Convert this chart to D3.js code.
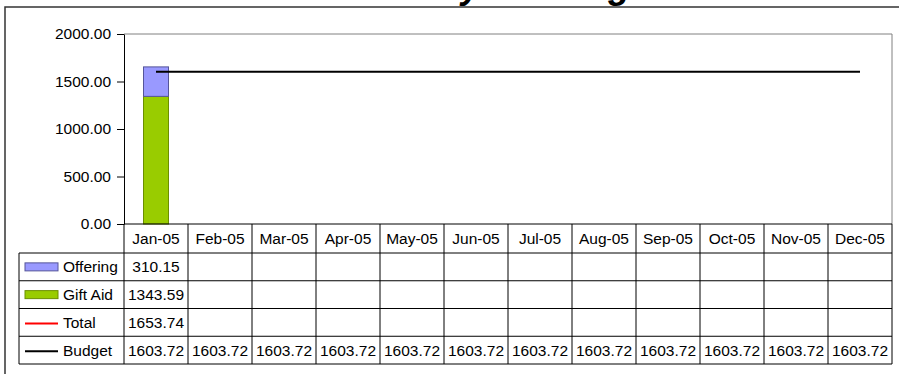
<!DOCTYPE html>
<html>
<head>
<meta charset="utf-8">
<script src="https://cdn.jsdelivr.net/npm/d3@7"></script>
<style>
	body { margin: 0; background: #fff; }
	svg { display: block; font-family: "Liberation Sans", Arial, sans-serif; }
</style>
</head>
<body>
<div id="chart"></div>
<script>
const months = ["Jan-05", "Feb-05", "Mar-05", "Apr-05", "May-05", "Jun-05", "Jul-05", "Aug-05", "Sep-05", "Oct-05", "Nov-05", "Dec-05"];
const offering = [310.15, null, null, null, null, null, null, null, null, null, null, null];
const giftAid = [1343.59, null, null, null, null, null, null, null, null, null, null, null];
const total = [1653.74, null, null, null, null, null, null, null, null, null, null, null];
const budget = [1603.72, 1603.72, 1603.72, 1603.72, 1603.72, 1603.72, 1603.72, 1603.72, 1603.72, 1603.72, 1603.72, 1603.72];
const yTicks = [0, 500, 1000, 1500, 2000];

const width = 899;
const height = 374;
const plot = { left: 124, right: 892, top: 34, bottom: 224 };
const headerH = 29;
const rowH = 27.75;
const legendLeft = 19;
const barWidth = 25;
const fontSize = "15.5px";

const svg = d3.select("#chart")
	.append("svg")
	.attr("width", width)
	.attr("height", height);

// outer frame, mostly off-page
svg.append("rect")
	.attr("x", 5)
	.attr("y", 7)
	.attr("width", width + 20)
	.attr("height", height + 20)
	.attr("fill", "none")
	.attr("stroke", "#333")
	.attr("stroke-width", 1.5);

// title, cut off at the top
svg.append("text")
	.attr("x", 343)
	.attr("y", -2)
	.attr("font-size", "36px")
	.attr("font-weight", "bold")
	.attr("font-style", "italic")
	.text("Monthly Offering");

const xScale = d3.scaleBand().domain(months).range([plot.left, plot.right]);
const yScale = d3.scaleLinear().domain([0, 2000]).range([plot.bottom, plot.top]);

// plot area border
svg.append("path")
	.attr("d", `M${plot.left},${plot.top}H${plot.right}V${plot.bottom}`)
	.attr("fill", "none")
	.attr("stroke", "#808080")
	.attr("stroke-width", 1);

// stacked bars
const stack = months.map((m, i) => ({ month: m, gift: giftAid[i], off: offering[i] }));

svg.append("g")
	.selectAll("rect")
	.data(stack.filter((d) => d.gift != null))
	.enter()
	.append("rect")
	.attr("x", (d) => xScale(d.month) + (xScale.bandwidth() - barWidth) / 2)
	.attr("y", (d) => yScale(d.gift))
	.attr("width", barWidth)
	.attr("height", (d) => yScale(0) - yScale(d.gift))
	.attr("fill", "#99cc00")
	.attr("stroke", "#6b8f00")
	.attr("stroke-width", 1);

svg.append("g")
	.selectAll("rect")
	.data(stack.filter((d) => d.off != null))
	.enter()
	.append("rect")
	.attr("x", (d) => xScale(d.month) + (xScale.bandwidth() - barWidth) / 2)
	.attr("y", (d) => yScale(d.gift + d.off))
	.attr("width", barWidth)
	.attr("height", (d) => yScale(d.gift) - yScale(d.gift + d.off))
	.attr("fill", "#9999ff")
	.attr("stroke", "#55559a")
	.attr("stroke-width", 1);

// lines
const line = d3.line()
	.defined((d) => d[1] != null)
	.x((d) => xScale(d[0]) + xScale.bandwidth() / 2)
	.y((d) => yScale(d[1]));

svg.append("path")
	.attr("d", line(months.map((m, i) => [m, total[i]])))
	.attr("fill", "none")
	.attr("stroke", "#ff0000")
	.attr("stroke-width", 2);

svg.append("path")
	.attr("d", line(months.map((m, i) => [m, budget[i]])))
	.attr("fill", "none")
	.attr("stroke", "#000")
	.attr("stroke-width", 2);

// y axis
const yAxis = d3.axisLeft(yScale)
	.tickValues(yTicks)
	.tickFormat(d3.format(".2f"))
	.tickSize(7)
	.tickSizeOuter(0)
	.tickPadding(6);

const gy = svg.append("g")
	.attr("transform", `translate(${plot.left},0)`)
	.call(yAxis);
gy.selectAll("text").attr("font-size", fontSize).attr("fill", "#000").attr("font-family", null);
gy.selectAll("line, path").attr("stroke", "#000");

// data table
const rows = [
	{ name: "Offering", values: offering, key: "rect", fill: "#9999ff", stroke: "#55559a" },
	{ name: "Gift Aid", values: giftAid, key: "rect", fill: "#99cc00", stroke: "#6b8f00" },
	{ name: "Total", values: total, key: "line", stroke: "#ff0000" },
	{ name: "Budget", values: budget, key: "line", stroke: "#000" },
];

const table = svg.append("g");
const tableTop = plot.bottom + headerH;
const tableBottom = tableTop + rows.length * rowH;

// horizontal lines
table.append("line")
	.attr("x1", plot.left).attr("x2", plot.right)
	.attr("y1", plot.bottom).attr("y2", plot.bottom)
	.attr("stroke", "#000");
table.selectAll("line.h")
	.data(d3.range(rows.length + 1))
	.enter()
	.append("line")
	.attr("class", "h")
	.attr("x1", legendLeft).attr("x2", plot.right)
	.attr("y1", (d) => tableTop + d * rowH)
	.attr("y2", (d) => tableTop + d * rowH)
	.attr("stroke", "#000");

// vertical lines
table.append("line")
	.attr("x1", legendLeft).attr("x2", legendLeft)
	.attr("y1", tableTop).attr("y2", tableBottom)
	.attr("stroke", "#000");
table.selectAll("line.v")
	.data(months.concat(["end"]))
	.enter()
	.append("line")
	.attr("class", "v")
	.attr("x1", (d) => (d === "end" ? plot.right : xScale(d)))
	.attr("x2", (d) => (d === "end" ? plot.right : xScale(d)))
	.attr("y1", plot.bottom).attr("y2", tableBottom)
	.attr("stroke", "#000");

// month labels
table.selectAll("text.month")
	.data(months)
	.enter()
	.append("text")
	.attr("class", "month")
	.attr("x", (d) => xScale(d) + xScale.bandwidth() / 2)
	.attr("y", plot.bottom + headerH / 2)
	.attr("dy", "0.36em")
	.attr("text-anchor", "middle")
	.attr("font-size", fontSize)
	.text((d) => d);

// legend keys and labels
const rowG = table.selectAll("g.row")
	.data(rows)
	.enter()
	.append("g")
	.attr("class", "row")
	.attr("transform", (d, i) => `translate(0,${tableTop + i * rowH + rowH / 2})`);

rowG.filter((d) => d.key === "rect")
	.append("rect")
	.attr("x", 25).attr("y", -4)
	.attr("width", 33).attr("height", 8)
	.attr("fill", (d) => d.fill)
	.attr("stroke", (d) => d.stroke);

rowG.filter((d) => d.key === "line")
	.append("line")
	.attr("x1", 25).attr("x2", 58)
	.attr("y1", 1).attr("y2", 1)
	.attr("stroke", (d) => d.stroke)
	.attr("stroke-width", 2);

rowG.append("text")
	.attr("x", 63)
	.attr("dy", "0.36em")
	.attr("font-size", fontSize)
	.text((d) => d.name);

rowG.selectAll("text.val")
	.data((d) => d.values.map((v, i) => [months[i], v]).filter((p) => p[1] != null))
	.enter()
	.append("text")
	.attr("class", "val")
	.attr("x", (p) => xScale(p[0]) + xScale.bandwidth() / 2)
	.attr("dy", "0.36em")
	.attr("text-anchor", "middle")
	.attr("font-size", fontSize)
	.text((p) => d3.format(".2f")(p[1]));
</script>
</body>
</html>
